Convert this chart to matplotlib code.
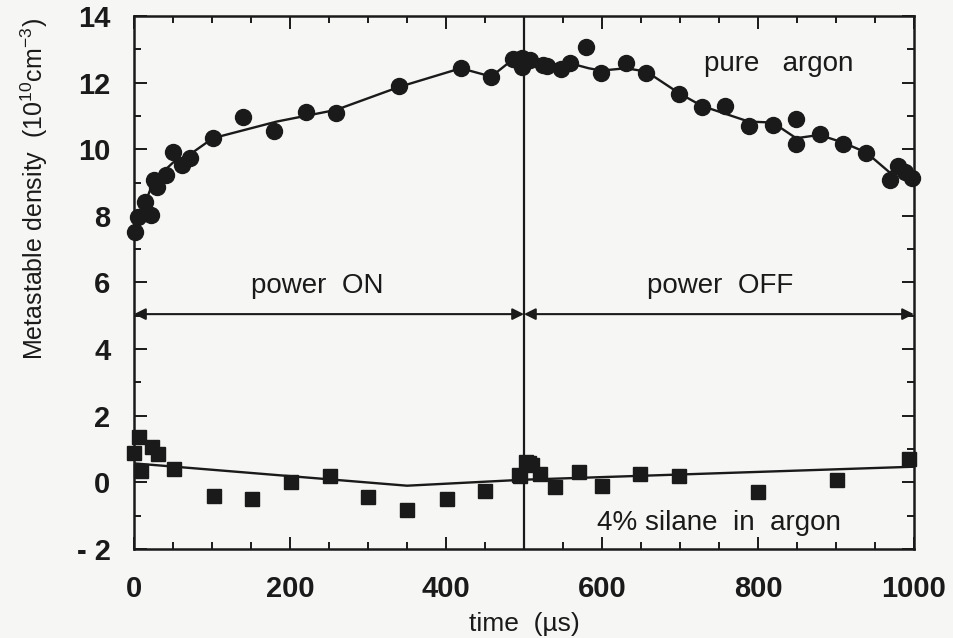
import numpy as np
import matplotlib
matplotlib.use("Agg")
import matplotlib.pyplot as plt
from matplotlib.ticker import MultipleLocator

plt.rcParams['font.family'] = ['Liberation Sans', 'DejaVu Sans']
plt.rcParams['mathtext.default'] = 'regular'

# pure argon (circles)
argon_t = [1, 5, 14, 22, 25, 29, 41, 50, 61, 72, 101, 140, 180, 220, 259, 340,
           419, 458, 486, 491, 497, 497, 503, 508, 524, 530, 548, 559, 579, 599,
           631, 657, 699, 728, 758, 788, 819, 849, 849, 879, 909, 939, 969, 979,
           988, 998]
argon_v = [7.52, 7.97, 8.42, 8.02, 9.08, 8.88, 9.23, 9.93, 9.53, 9.73, 10.33,
           10.98, 10.55, 11.11, 11.10, 11.90, 12.43, 12.18, 12.70, 12.68, 12.73,
           12.48, 12.68, 12.68, 12.53, 12.50, 12.41, 12.58, 13.08, 12.30, 12.60,
           12.30, 11.66, 11.26, 11.30, 10.70, 10.73, 10.90, 10.16, 10.46, 10.16,
           9.88, 9.08, 9.50, 9.32, 9.13]

# smoothed curve through argon points
argon_fit_t = [1, 25, 50, 72, 101, 183, 259, 340, 419, 458, 486, 497, 524, 559,
               583, 599, 631, 657, 699, 728, 788, 819, 849, 879, 909, 939, 969,
               979, 998]
argon_fit_v = [7.55, 9.05, 9.60, 9.85, 10.33, 10.83, 11.18, 11.87, 12.43, 12.18,
               12.70, 12.70, 12.53, 12.58, 12.43, 12.36, 12.43, 12.33, 11.68,
               11.30, 10.83, 10.80, 10.33, 10.43, 10.20, 9.90, 9.30, 9.45, 9.15]

# 4% silane in argon (squares)
silane_t = [0, 7, 9, 23, 31, 51, 102, 151, 201, 251, 300, 350, 401, 450, 493,
            495, 503, 506, 510, 521, 540, 570, 600, 649, 699, 800, 901, 994]
silane_v = [0.87, 1.35, 0.34, 1.07, 0.84, 0.39, -0.41, -0.51, 0.02, 0.19, -0.43,
            -0.83, -0.51, -0.27, 0.22, 0.19, 0.62, 0.57, 0.52, 0.26, -0.13, 0.32,
            -0.10, 0.26, 0.19, -0.29, 0.06, 0.69]

silane_fit_t = [0, 350, 500, 1000]
silane_fit_v = [0.57, -0.10, 0.08, 0.47]

y_ticks = [-2, 0, 2, 4, 6, 8, 10, 12, 14]
y_labels = ['- 2', '0', '2', '4', '6', '8', '10', '12', '14']
x_ticks = [0, 200, 400, 600, 800, 1000]

ink = '#1a1a1a'

fig = plt.figure(figsize=(9.54, 6.38), dpi=100)
fig.patch.set_facecolor('#f6f6f4')
ax = fig.add_axes([0.1405, 0.1395, 0.8175, 0.8355])
ax.set_facecolor('#f6f6f4')

ax.plot(argon_fit_t, argon_fit_v, color=ink, lw=1.7, zorder=2)
ax.plot(argon_t, argon_v, 'o', color=ink, ms=11.5, zorder=3, clip_on=False)
ax.plot(silane_fit_t, silane_fit_v, color=ink, lw=1.7, zorder=2)
ax.plot(silane_t, silane_v, 's', color=ink, ms=9.5, zorder=3, clip_on=False)

# power on/off marker
ax.axvline(500, color=ink, lw=1.6)
arrow = dict(arrowstyle='<|-|>', color=ink, lw=1.5, mutation_scale=17,
             shrinkA=0, shrinkB=0)
ax.annotate('', xy=(0, 5.05), xytext=(500, 5.05), arrowprops=arrow)
ax.annotate('', xy=(500, 5.05), xytext=(1000, 5.05), arrowprops=arrow)

txt = dict(fontsize=20, color=ink)
ax.text(235, 5.5, 'power  ON', ha='center', va='bottom', **txt)
ax.text(751, 5.5, 'power  OFF', ha='center', va='bottom', **txt)
ax.text(826, 12.55, 'pure   argon', ha='center', va='center', **txt)
ax.text(750, -1.22, '4% silane  in  argon', ha='center', va='center', **txt)

ax.set_xlim(0, 1000)
ax.set_ylim(-2, 14)
ax.set_xticks(x_ticks)
ax.set_yticks(y_ticks)
ax.set_yticklabels(y_labels)
ax.xaxis.set_minor_locator(MultipleLocator(50))
ax.yaxis.set_minor_locator(MultipleLocator(1))
ax.tick_params(which='both', direction='in', top=True, right=True,
               labelsize=21, width=1.4, colors=ink)
ax.tick_params(axis='x', which='major', length=9, pad=19)
ax.tick_params(axis='y', which='major', length=9, pad=17)
ax.tick_params(which='minor', length=5)
for lab in ax.get_xticklabels() + ax.get_yticklabels():
    lab.set_fontweight('bold')
for s in ax.spines.values():
    s.set_linewidth(1.8)
    s.set_color(ink)

ax.set_xlabel('time  (µs)', fontsize=19, color=ink)
ax.xaxis.set_label_coords(0.5, -0.118)
ax.set_ylabel('Metastable density  (10$^{10}$cm$^{-3}$)', fontsize=18, color=ink,
              va='center')
ax.yaxis.set_label_coords(-0.128, 0.675)

fig.savefig('out.png', dpi=100, facecolor=fig.get_facecolor())
